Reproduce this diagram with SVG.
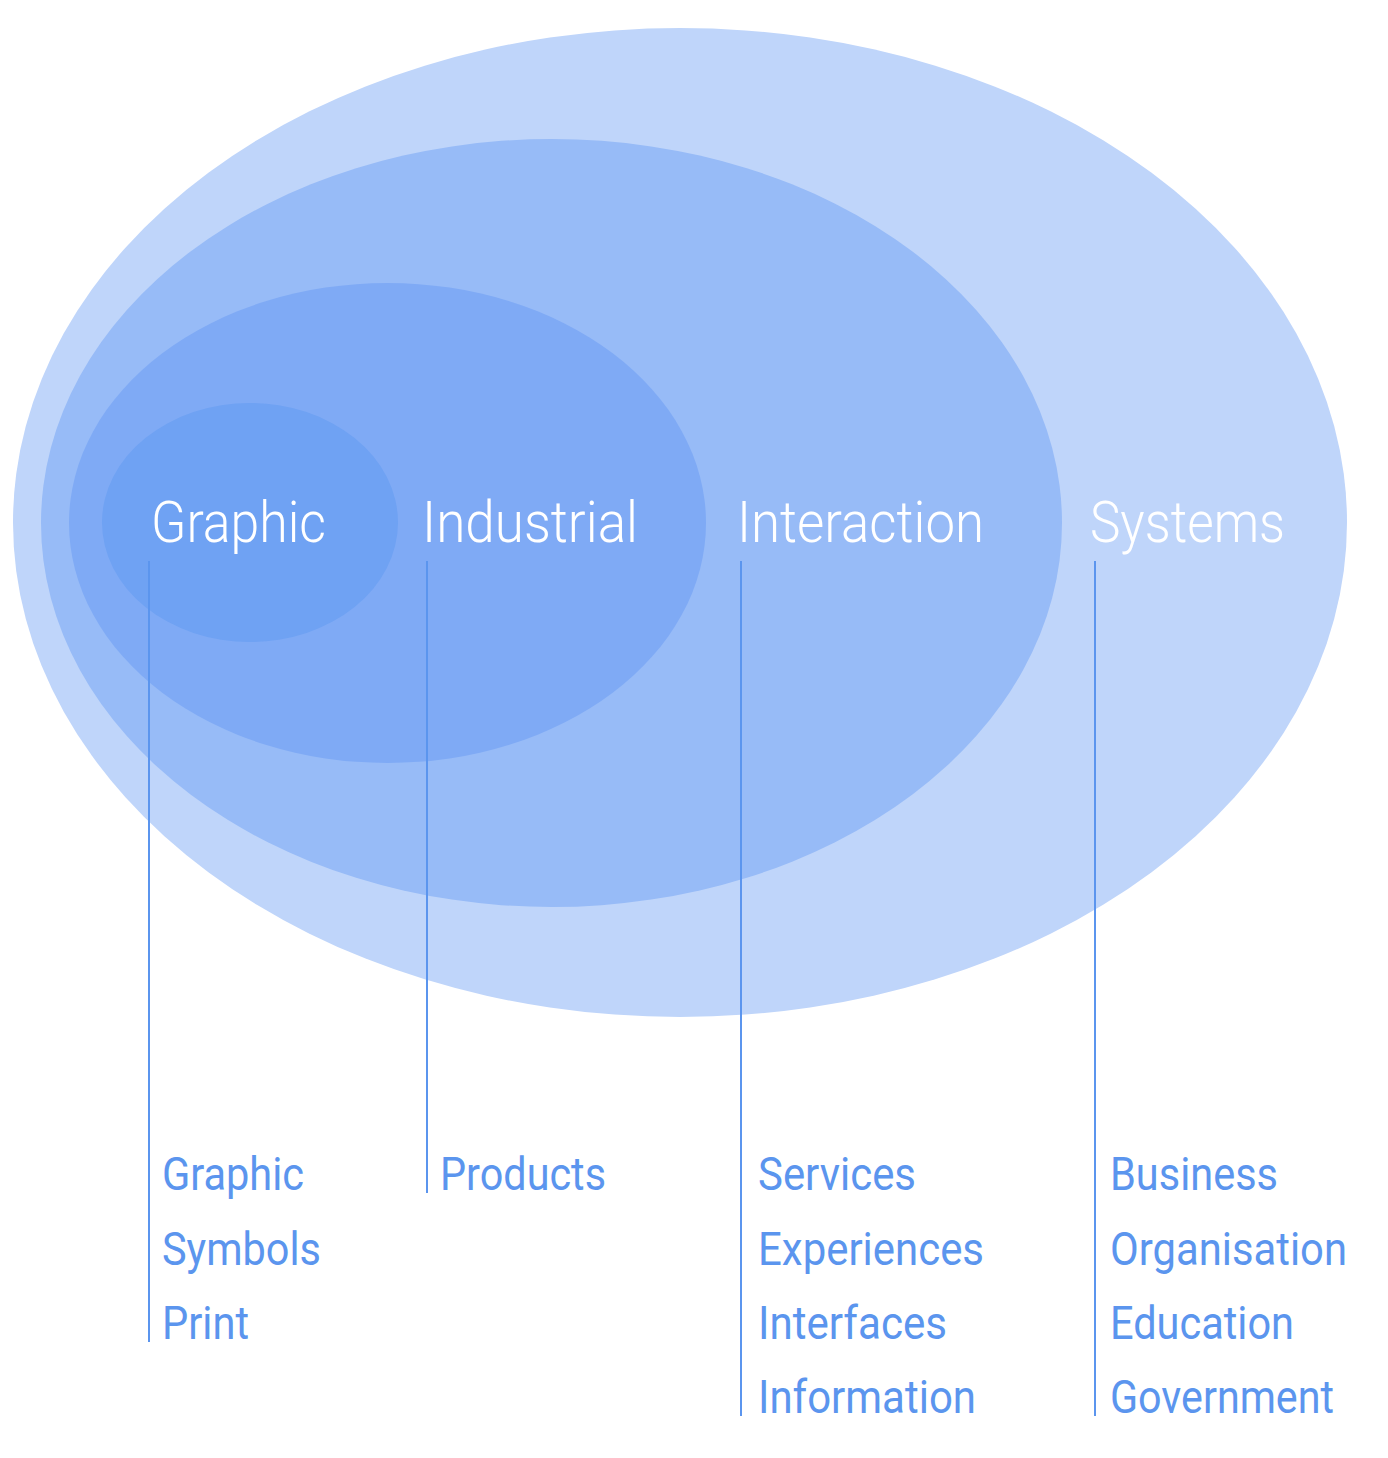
<svg xmlns="http://www.w3.org/2000/svg" width="1388" height="1458" viewBox="0 0 1388 1458">
<style>
.title{font-family:Roboto,"Liberation Sans",sans-serif;font-weight:300;font-size:58px;fill:#ffffff}
.lbl{font-family:Roboto,"Liberation Sans",sans-serif;font-weight:400;font-size:47px;fill:#5b95ee}
.conn{stroke:#5b95ee;stroke-width:2;fill:none}
</style>
<rect width="1388" height="1458" fill="#ffffff"/>
<g id="systems"><ellipse cx="680" cy="522.5" rx="667" ry="494.5" fill="#bfd5fa"/></g>
<g id="interaction"><ellipse cx="551.5" cy="523" rx="510.5" ry="384" fill="#97bbf7"/></g>
<g id="industrial"><ellipse cx="387.5" cy="523" rx="318.5" ry="240" fill="#7faaf5"/></g>
<g id="graphic"><ellipse cx="250" cy="522.5" rx="148" ry="119.5" fill="#6fa2f3"/></g>
<g id="connectors">
<line class="conn" x1="149" y1="561" x2="149" y2="1342"/>
<line class="conn" x1="427" y1="561" x2="427" y2="1193"/>
<line class="conn" x1="741" y1="561" x2="741" y2="1416"/>
<line class="conn" x1="1095" y1="561" x2="1095" y2="1416"/>
</g>
<g id="titles">
<text class="title" x="151" y="542" textLength="175" lengthAdjust="spacingAndGlyphs">Graphic</text>
<text class="title" x="422" y="542" textLength="216" lengthAdjust="spacingAndGlyphs">Industrial</text>
<text class="title" x="737" y="542" textLength="247" lengthAdjust="spacingAndGlyphs">Interaction</text>
<text class="title" x="1090" y="542" textLength="195" lengthAdjust="spacingAndGlyphs">Systems</text>
</g>
<g id="labels-graphic">
<text class="lbl" x="162" y="1190" textLength="142" lengthAdjust="spacingAndGlyphs">Graphic</text>
<text class="lbl" x="162" y="1265" textLength="159" lengthAdjust="spacingAndGlyphs">Symbols</text>
<text class="lbl" x="162" y="1339" textLength="87" lengthAdjust="spacingAndGlyphs">Print</text>
</g>
<g id="labels-industrial">
<text class="lbl" x="440" y="1190" textLength="166" lengthAdjust="spacingAndGlyphs">Products</text>
</g>
<g id="labels-interaction">
<text class="lbl" x="758" y="1190" textLength="158" lengthAdjust="spacingAndGlyphs">Services</text>
<text class="lbl" x="758" y="1265" textLength="226" lengthAdjust="spacingAndGlyphs">Experiences</text>
<text class="lbl" x="758" y="1339" textLength="189" lengthAdjust="spacingAndGlyphs">Interfaces</text>
<text class="lbl" x="758" y="1413" textLength="218" lengthAdjust="spacingAndGlyphs">Information</text>
</g>
<g id="labels-systems">
<text class="lbl" x="1110" y="1190" textLength="168" lengthAdjust="spacingAndGlyphs">Business</text>
<text class="lbl" x="1110" y="1265" textLength="237" lengthAdjust="spacingAndGlyphs">Organisation</text>
<text class="lbl" x="1110" y="1339" textLength="184" lengthAdjust="spacingAndGlyphs">Education</text>
<text class="lbl" x="1110" y="1413" textLength="224" lengthAdjust="spacingAndGlyphs">Government</text>
</g>
</svg>
